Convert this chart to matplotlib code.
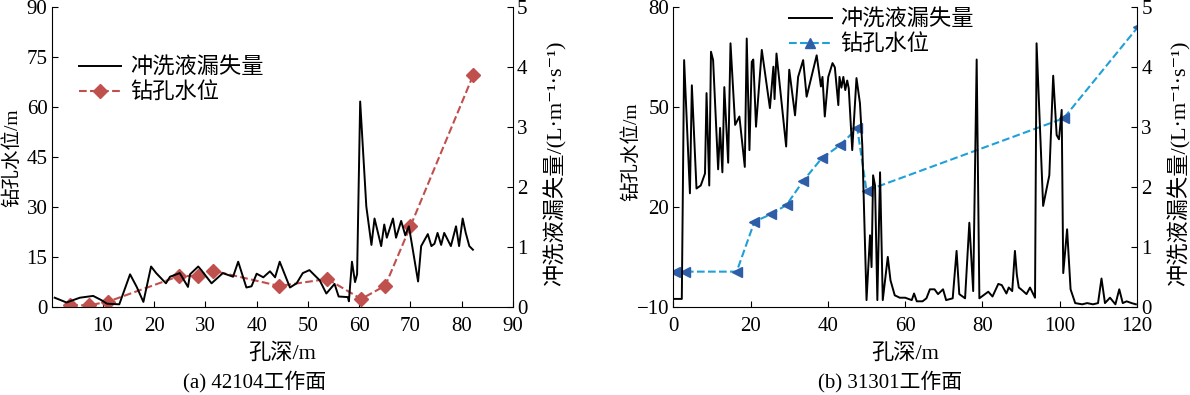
import numpy as np
import matplotlib.pyplot as plt
from matplotlib.lines import Line2D

plt.rcParams['font.family'] = ['Liberation Serif', 'Noto Sans CJK SC', 'DejaVu Serif']
plt.rcParams['axes.unicode_minus'] = True

# (a) 42104 working face
a_loss_depth = [0.6, 2.9, 5.5, 8.1, 9.7, 10.8, 13.2, 15.3, 16.6, 17.9, 19.4, 20.4, 22.3, 23.1,
                25.0, 26.6, 27.0, 28.6, 29.2, 31.2, 33.4, 35.4, 36.4, 38.0, 39.0, 40.0, 41.3,
                42.6, 43.6, 44.5, 46.5, 47.8, 49.0, 50.3, 52.3, 53.6, 55.2, 56.0, 57.8, 58.0,
                58.6, 59.2, 59.6, 60.2, 61.4, 62.4, 63.0, 64.3, 64.9, 65.4, 66.6, 67.2, 68.2,
                69.0, 69.7, 70.2, 71.5, 72.1, 73.4, 74.1, 74.7, 75.3, 76.0, 76.6, 77.9, 78.9,
                79.5, 80.2, 80.8, 81.5, 82.2]
a_loss = [0.16, 0.08, 0.16, 0.19, 0.12, 0.06, 0.05, 0.55, 0.34, 0.09, 0.68, 0.57, 0.40, 0.51,
          0.57, 0.34, 0.55, 0.68, 0.62, 0.40, 0.57, 0.51, 0.76, 0.33, 0.35, 0.56, 0.50,
          0.60, 0.50, 0.76, 0.33, 0.40, 0.57, 0.62, 0.45, 0.23, 0.39, 0.18, 0.17, 0.10,
          0.76, 0.42, 0.55, 3.43, 1.68, 1.04, 1.48, 1.02, 1.38, 1.16, 1.48, 1.16, 1.44,
          1.20, 1.35, 1.10, 0.43, 1.02, 1.22, 1.02, 1.06, 1.24, 1.04, 1.24, 1.02, 1.35,
          1.02, 1.48, 1.24, 1.02, 0.96]
a_level_depth = [3.6, 7.3, 11.0, 24.9, 28.6, 31.4, 44.4, 53.8, 60.4, 65.1, 70.0, 82.3]
a_level = [0.6, 0.6, 1.7, 9.4, 9.4, 11.0, 6.4, 8.5, 2.5, 6.5, 24.3, 69.8]

# (b) 31301 working face
b_loss_depth = [0.0, 2.2, 2.8, 4.3, 4.8, 6.0, 7.1, 8.2, 8.6, 9.3, 9.75, 10.3, 11.6, 12.1, 12.7,
                13.2, 14.2, 14.8, 16.0, 17.1, 18.5, 19.0, 19.7, 20.3, 20.7, 21.4, 22.9, 25.0,
                25.9, 26.2, 26.7, 29.2, 30.0, 31.5, 32.3, 33.6, 34.5, 37.1, 38.2, 38.6, 39.2,
                40.1, 41.2, 41.8, 42.7, 43.0, 43.5, 44.0, 44.5, 45.0, 45.4, 46.3, 47.4, 48.3,
                48.9, 50.0, 50.9, 51.3, 51.7, 52.2, 52.8, 53.5, 54.2, 55.5, 56.2, 57.3, 58.6,
                60.0, 61.7, 62.3, 63.0, 64.5, 65.5, 66.4, 67.6, 68.5, 69.8, 70.6, 72.3, 73.3,
                74.0, 75.5, 76.6, 77.6, 78.5, 79.2, 81.5, 82.6, 84.1, 85.0, 86.2, 86.8, 87.7,
                88.4, 88.9, 89.4, 90.0, 91.4, 92.3, 93.6, 94.0, 95.7, 97.3, 98.3, 99.2, 99.8,
                100.5, 100.9, 101.9, 102.8, 104.0, 105.8, 107.1, 108.6, 109.9, 110.8, 111.7,
                113.0, 114.4, 115.4, 116.3, 117.3, 118.6, 119.7]
b_loss = [0.14, 0.14, 4.12, 1.90, 3.70, 1.98, 2.03, 2.23, 3.57, 2.03, 4.26, 4.12, 2.30, 2.99, 2.25,
          3.67, 2.41, 4.40, 3.04, 3.18, 2.34, 4.48, 2.62, 4.09, 4.13, 3.01, 4.29, 3.32,
          4.01, 3.47, 4.23, 2.68, 3.96, 3.20, 3.84, 4.12, 3.51, 4.20, 3.68, 3.84, 3.18,
          3.84, 4.07, 4.00, 3.37, 3.84, 3.66, 3.84, 3.62, 3.78, 3.65, 2.62, 3.82, 3.40,
          2.70, 0.12, 1.20, 0.67, 2.20, 2.03, 0.12, 2.25, 0.12, 0.84, 0.45, 0.20, 0.16,
          0.16, 0.12, 0.23, 0.10, 0.10, 0.15, 0.30, 0.30, 0.22, 0.30, 0.12, 0.15, 0.94,
          0.22, 0.15, 1.41, 0.27, 4.13, 0.15, 0.26, 0.18, 0.39, 0.37, 0.23, 0.33, 0.27,
          0.94, 0.54, 0.33, 0.30, 0.22, 0.33, 0.16, 4.40, 1.69, 2.20, 3.86, 2.87, 2.80,
          3.29, 0.57, 1.30, 0.30, 0.07, 0.05, 0.07, 0.05, 0.07, 0.48, 0.07, 0.16, 0.05,
          0.30, 0.07, 0.10, 0.07, 0.05]
b_level_depth = [0.4, 3.0, 16.4, 21.0, 25.4, 29.3, 33.6, 38.4, 43.1, 47.6, 50.0, 101.0, 120.3]
b_level = [0.7, 0.7, 0.7, 15.7, 18.0, 20.7, 27.9, 34.7, 38.6, 43.7, 25.0, 46.7, 74.2]

loss_label = '冲洗液漏失量'
level_label = '钻孔水位'
loss_unit = '冲洗液漏失量/(L·m⁻¹·s⁻¹)'
red = '#c0504d'
blue_line = '#1fa0d8'
blue_mk = '#2f5ea8'

fig = plt.figure(figsize=(11.9, 3.95), dpi=100)
ax1 = fig.add_axes([0.0434, 0.222, 0.3876, 0.7595])
ax2 = fig.add_axes([0.5658, 0.222, 0.3897, 0.7595])


def style(ax, axr):
    for a in (ax, axr):
        a.spines['top'].set_visible(False)
        a.tick_params(direction='in', labelsize=15, length=4, width=0.8, pad=3)
    ax.tick_params(axis='x', pad=7)
    ax.spines['right'].set_visible(False)
    axr.spines['left'].set_visible(False)
    axr.spines['bottom'].set_visible(False)
    axr.set_ylim(0, 5)
    axr.set_yticks([0, 1, 2, 3, 4, 5])
    axr.set_ylabel(loss_unit, fontsize=16)
    axr.yaxis.set_label_coords(1.066, 0.48)
    ax.set_xlabel('孔深/m', fontsize=16, labelpad=5)
    ax.set_ylabel('钻孔水位/m', fontsize=14)


# panel (a)
ax1r = ax1.twinx()
ax1.plot(a_level_depth, a_level, '--', color=red, lw=1.5, marker='D', ms=7, mfc=red, mec=red)
ax1r.plot(a_loss_depth, a_loss, '-', color='black', lw=1.4)
ax1.set_xlim(0, 90)
ax1.set_ylim(0, 90)
ax1.set_xticks(range(10, 91, 10))
ax1.set_yticks(range(0, 91, 15))
style(ax1, ax1r)
ax1.yaxis.set_label_coords(-0.066, 0.5)
handles = [Line2D([], [], color='black', lw=1.4),
           Line2D([], [], ls='--', color=red, lw=1.5, marker='D', ms=7)]
ax1.legend(handles, [loss_label, level_label], loc='upper left', bbox_to_anchor=(0.016, 0.9),
           frameon=False, fontsize=16, handlelength=1.9, handletextpad=0.4, labelspacing=0.2)
fig.text(0.214, 0.02, '(a) 42104工作面', ha='center', fontsize=15)

# panel (b)
ax2r = ax2.twinx()
ax2.plot(b_level_depth, b_level, '--', color=blue_line, lw=1.5, marker='<', ms=7,
         mfc=blue_mk, mec=blue_mk)
ax2r.plot(b_loss_depth, b_loss, '-', color='black', lw=1.4)
ax2.set_xlim(0, 120)
ax2.set_ylim(-10, 80)
ax2.set_xticks(range(0, 121, 20))
ax2.set_yticks([-10, 20, 50, 80])
style(ax2, ax2r)
ax2.yaxis.set_label_coords(-0.072, 0.52)
handles = [Line2D([], [], color='black', lw=1.4),
           Line2D([], [], ls='--', color=blue_line, lw=1.5, marker='^', ms=7,
                  mfc=blue_mk, mec=blue_mk)]
ax2.legend(handles, [loss_label, level_label], loc='upper left', bbox_to_anchor=(0.207, 1.06),
           frameon=False, fontsize=16, handlelength=1.9, handletextpad=0.4, labelspacing=0.2)
fig.text(0.748, 0.02, '(b) 31301工作面', ha='center', fontsize=15)

fig.savefig('out.png', dpi=100)
